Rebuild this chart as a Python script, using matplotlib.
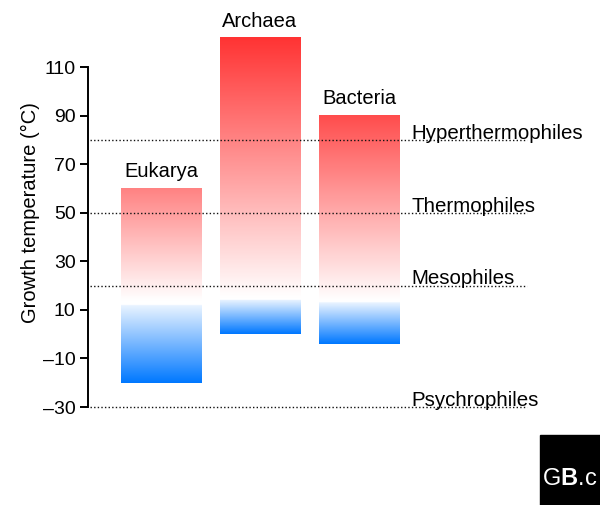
import numpy as np
import matplotlib
matplotlib.use("Agg")
from matplotlib import pyplot as plt
from matplotlib.patches import Rectangle

plt.rcParams['font.family'] = ['Liberation Sans', 'DejaVu Sans']
plt.rcParams['mathtext.fontset'] = 'custom'
plt.rcParams['mathtext.rm'] = 'Liberation Sans'
plt.rcParams['mathtext.bf'] = 'Liberation Sans:bold'

# growth temperature ranges of the three domains
domains = ["Eukarya", "Archaea", "Bacteria"]
t_max = [60, 122, 90]
t_min = [-20, 0, -4]
# colour at the top of each bar (red end of the gradient)
top_red = [(1.0, 0.51, 0.51), (1.0, 0.20, 0.20), (1.0, 0.30, 0.30)]
# where the red fades out and the blue starts (per bar)
red_start = [14, 15, 14]
blue_start = [12, 14, 13]

# thermal classes
classes = ["Hyperthermophiles", "Thermophiles", "Mesophiles", "Psychrophiles"]
class_temp = [80, 50, 20, -30]

yticks = [-30, -10, 10, 30, 50, 70, 90, 110]

fig = plt.figure(figsize=(6, 5.05), dpi=100)
ax = fig.add_axes([88 / 600, 0.194, (527 - 88) / 600, 0.7695])

blue_deep = np.array([0.0, 0.47, 1.0])
white = np.array([1.0, 1.0, 1.0])
width = 0.81

for i, name in enumerate(domains):
    lo, hi = t_min[i], t_max[i]
    v = np.linspace(hi, lo, 400)
    img = np.ones((len(v), 1, 3))
    red = np.array(top_red[i])
    for k, val in enumerate(v):
        if val >= red_start[i]:
            t = (val - red_start[i]) / (hi - red_start[i])
            img[k, 0] = white * (1 - t) + red * t
        elif val <= blue_start[i]:
            t = (blue_start[i] - val) / (blue_start[i] - lo)
            t = 0.08 + 0.92 * t
            img[k, 0] = white * (1 - t) + blue_deep * t
    ax.imshow(img, extent=(i - width / 2, i + width / 2, lo, hi),
              aspect='auto', interpolation='bilinear', zorder=1)
    ax.text(i, hi + 3, name, ha='center', va='bottom', fontsize=14.5)

# dotted class boundaries with labels
for name, temp in zip(classes, class_temp):
    ax.plot([-0.72, 3.697], [temp, temp], color='#111111', lw=1.0,
            linestyle=(0, (1, 1.6)), zorder=2, clip_on=False)
    ax.text(2.53, temp + 0.5, name, ha='left', va='baseline', fontsize=14.8,
            zorder=3)

ax.set_xlim(-0.737, 3.697)
ax.set_ylim(-30, 130)
ax.set_yticks(yticks)
ax.set_yticklabels([str(t).replace('-', '\u2013') for t in yticks])
ax.set_xticks([])
ax.tick_params(axis='y', length=6, width=1.4, labelsize=14, pad=3)
for s in ['top', 'right', 'bottom']:
    ax.spines[s].set_visible(False)
ax.spines['left'].set_linewidth(1.4)
ax.spines['left'].set_bounds(-30, 110)
ax.set_ylabel("Growth temperature (°C)", fontsize=14.5, labelpad=2)

# logo box in the corner
fig.patches.append(Rectangle((540 / 600, 0), 60 / 600, 70 / 505,
                             transform=fig.transFigure, color='black'))
fig.text(542 / 600, 20 / 505, r"G$\mathbf{B}$.c", color='white', fontsize=17)

fig.savefig("out.png", dpi=100)
